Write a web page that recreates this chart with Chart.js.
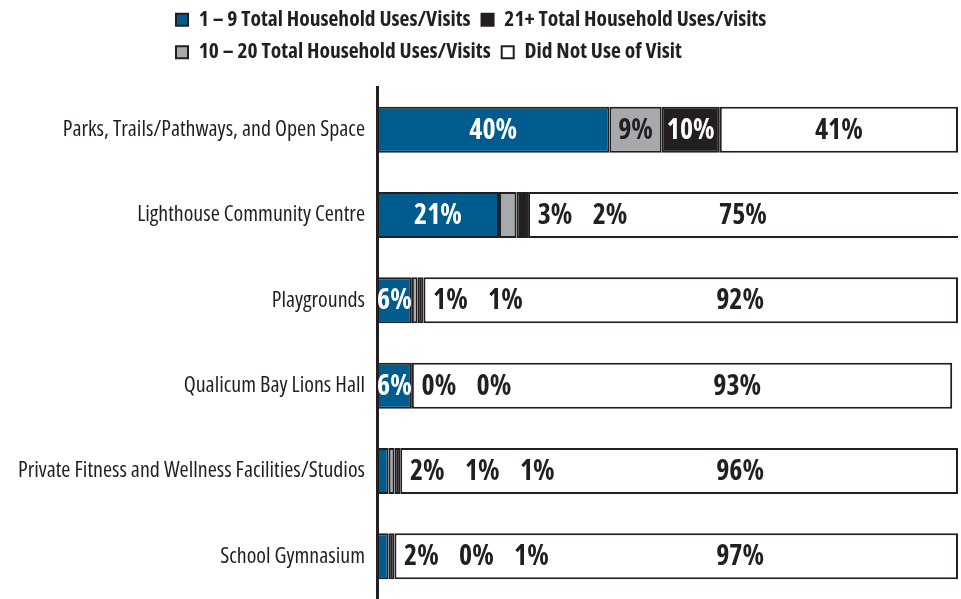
<!DOCTYPE html>
<html>
<head>
<meta charset="utf-8">
<script src="https://cdn.jsdelivr.net/npm/chart.js@4.4.1/dist/chart.umd.min.js"></script>
<style>
  html, body { margin: 0; padding: 0; background: #fff; }
  .chart-container { position: relative; width: 961px; height: 599px; }
</style>
</head>
<body>
<div class="chart-container">
  <canvas id="myChart"></canvas>
</div>
<script>
// --- dados ---
const categories = [
  'Parks, Trails/Pathways, and Open Space',
  'Lighthouse Community Centre',
  'Playgrounds',
  'Qualicum Bay Lions Hall',
  'Private Fitness and Wellness Facilities/Studios',
  'School Gymnasium'
];
const seriesNames = [
  '1 \u2013 9 Total Household Uses/Visits',
  '10 \u2013 20 Total Household Uses/Visits',
  '21+ Total Household Uses/visits',
  'Did Not Use of Visit'
];
const uses1to9 = [40, 21, 6, 6, 2, 2];
const uses10to20 = [9, 3, 1, 0, 1, 0];
const uses21plus = [10, 2, 1, 0, 1, 1];
const didNotUse = [41, 75, 92, 93, 96, 97];

// Open Sans com font-stretch condensed (parecido com o original)
const FONT = '"Open Sans", "DejaVu Sans", sans-serif';
const DARK = '#231f20';
const fills = ['#005b8f', '#a7a9ac', DARK, '#ffffff'];
const insideText = ['#ffffff', DARK, '#ffffff', DARK];
const legendOrder = [0, 2, 1, 3];

// legenda: desloca para a esquerda/topo como no original
const legendShift = {
  id: 'legendShift',
  afterLayout(chart) {
    const lg = chart.legend;
    lg.left = 165;
    lg.right = 165 + 780;
    lg.top = -2;
  }
};

// rótulos das barras
const barLabels = {
  id: 'barLabels',
  afterDatasetsDraw(chart) {
    const ctx = chart.ctx;
    const xs = chart.scales.x;
    ctx.save();
    ctx.font = 'bold condensed 28px ' + FONT;
    ctx.textAlign = 'center';
    ctx.textBaseline = 'middle';
    categories.forEach(function(c, i) {
      // valores pequenos vão em sequência, logo depois da parte colorida
      let cursor = chart.getDatasetMeta(2).data[i].x + 27;
      for (let d = 0; d < 3; d++) {
        const bar = chart.getDatasetMeta(d).data[i];
        const v = chart.data.datasets[d].data[i];
        if (v >= 5) {
          ctx.fillStyle = insideText[d];
          ctx.fillText(v + '%', (bar.x + bar.base) / 2, bar.y + 1);
        } else {
          ctx.fillStyle = DARK;
          ctx.fillText(v + '%', cursor, bar.y + 1);
          cursor += 55;
        }
      }
      const last = chart.getDatasetMeta(3).data[i];
      const from = Math.max(last.base, xs.getPixelForValue(25));
      const to = Math.min(last.x, xs.right);
      ctx.fillStyle = DARK;
      ctx.fillText(chart.data.datasets[3].data[i] + '%', (from + to) / 2, last.y + 1);
    });
    ctx.restore();
  }
};

const values = [uses1to9, uses10to20, uses21plus, didNotUse];

const chartConfig = {
  type: 'bar',
  data: {
    labels: categories,
    datasets: values.map(function(arr, k) {
      return {
        label: seriesNames[k],
        data: arr,
        backgroundColor: fills[k],
        borderColor: DARK,
        borderWidth: 2,
        borderSkipped: false,
        barPercentage: 0.54,
        categoryPercentage: 1
      };
    })
  },
  options: {
    indexAxis: 'y',
    responsive: true,
    maintainAspectRatio: false,
    animation: false,
    devicePixelRatio: 1,
    layout: { padding: { top: 12, right: 3, bottom: 0, left: 0 } },
    plugins: {
      legend: {
        position: 'top',
        align: 'start',
        labels: {
          color: DARK,
          // 'condensed' vai no weight porque o Chart.js valida o style
          font: { family: FONT, size: 21.5, weight: 'bold condensed' },
          boxWidth: 12,
          boxHeight: 12,
          padding: 11,
          sort: function(a, b) { return legendOrder[a.datasetIndex] - legendOrder[b.datasetIndex]; }
        }
      },
      tooltip: { enabled: false }
    },
    scales: {
      x: {
        stacked: true,
        display: false,
        min: 0,
        max: 100
      },
      y: {
        stacked: true,
        grid: { display: false, drawTicks: false },
        border: { display: true, color: DARK, width: 3 },
        ticks: {
          color: DARK,
          padding: 12,
          font: { family: FONT, size: 22, weight: 'condensed' }
        },
        afterFit: function(scale) {
          scale.width = 377;
          // sem folga em cima/baixo: o eixo vai até o fim da imagem
          scale.paddingTop = 0;
          scale.paddingBottom = 0;
        }
      }
    }
  },
  plugins: [legendShift, barLabels]
};

const ctx = document.getElementById('myChart').getContext('2d');
new Chart(ctx, chartConfig);
</script>
</body>
</html>
